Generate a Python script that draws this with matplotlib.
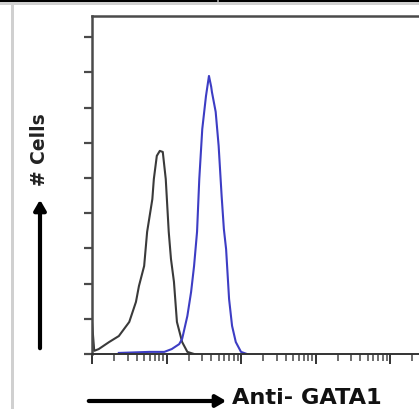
import matplotlib
matplotlib.use('Agg')
import matplotlib.pyplot as plt
from matplotlib.ticker import LogLocator, NullFormatter
import numpy as np

# control (black) histogram: log10 fluorescence, cell counts
ctrl_log = [0.00, 0.00, 0.03, 0.09, 0.23, 0.36, 0.50, 0.59, 0.63, 0.70, 0.74, 0.81, 0.83,
            0.87, 0.91, 0.95, 0.99, 1.03, 1.06, 1.10, 1.14, 1.21, 1.28, 1.37]
ctrl_cnt = [0.0, 9.0, 0.9, 1.4, 3.4, 5.1, 9.1, 14.8, 19.3, 25.0, 34.7, 44.0, 49.7,
            56.3, 57.7, 57.4, 49.7, 34.7, 27.0, 20.5, 9.1, 3.4, 0.6, 0.0]

# anti-GATA1 (blue) histogram
gata_log = [0.36, 0.77, 0.97, 1.07, 1.17, 1.21, 1.28, 1.33, 1.37, 1.41, 1.44, 1.48, 1.53,
            1.57, 1.60, 1.61, 1.66, 1.70, 1.74, 1.77, 1.80, 1.84, 1.88, 1.93, 2.00, 2.08]
gata_cnt = [0.3, 0.6, 0.6, 1.4, 2.8, 4.3, 10.8, 17.6, 25.0, 34.7, 49.7, 63.9, 73.3,
            79.0, 75.9, 74.4, 68.8, 59.1, 44.9, 35.5, 29.8, 15.6, 8.0, 3.4, 0.6, 0.0]

W, H = 419, 410
fig = plt.figure(figsize=(W / 100, H / 100), dpi=100)

# axes box: left spine at x=92, top at y=17, bottom at y=355; runs past the right edge
x0, y0, y1 = 92, 17, 355
decade = 74.5
ax = fig.add_axes([x0 / W, 1 - y1 / H, 5 * decade / W, (y1 - y0) / H])
ax.set_xscale('log')
ax.set_xlim(1, 1e5)
ax.set_ylim(0, (y1 - y0) / 3.52)

ax.plot(10 ** np.array(ctrl_log), ctrl_cnt, color='#3a3a3a', lw=1.5)
ax.plot(10 ** np.array(gata_log), gata_cnt, color='#3d3dc4', lw=1.5)

for s in ['left', 'top']:
    ax.spines[s].set_color('#4a4a4a')
    ax.spines[s].set_linewidth(1.8)
ax.spines['bottom'].set_color('#333333')
ax.spines['bottom'].set_linewidth(1.4)
ax.spines['right'].set_visible(False)

ax.set_yticks(np.arange(0, 91, 10))
ax.yaxis.set_major_formatter(NullFormatter())
ax.tick_params(axis='y', direction='out', length=6, width=1.6, color='#4a4a4a')
ax.xaxis.set_major_locator(LogLocator(base=10, numticks=10))
ax.xaxis.set_minor_locator(LogLocator(base=10, subs=np.arange(2, 10), numticks=20))
ax.xaxis.set_major_formatter(NullFormatter())
ax.xaxis.set_minor_formatter(NullFormatter())
ax.tick_params(axis='x', which='major', direction='out', length=7, width=1.4, color='#333333')
ax.tick_params(axis='x', which='minor', direction='out', length=5, width=1.2, color='#555555')

# frame decorations from the source panel
fig.add_artist(plt.Rectangle((0, 1 - 3 / H), 1, 3 / H, transform=fig.transFigure,
                             color='black', lw=0))
fig.add_artist(plt.Rectangle((0, 1 - 6 / H), 1, 3 / H, transform=fig.transFigure,
                             color='#d0d0d0', lw=0))
fig.add_artist(plt.Rectangle((217 / W, 1 - 3 / H), 2 / W, 3 / H, transform=fig.transFigure,
                             color='#888888', lw=0))
fig.add_artist(plt.Rectangle((11 / W, 0), 3 / W, 1 - 6 / H, transform=fig.transFigure,
                             color='#d0d0d0', lw=0))

# axis labels with arrows
fig.text(39 / W, 1 - 150 / H, '# Cells', rotation=90, ha='center', va='center',
         fontsize=13.5, fontweight='bold', color='#222222', family='DejaVu Sans')
fig.add_artist(matplotlib.patches.FancyArrowPatch(
    (40 / W, 1 - 352 / H), (40 / W, 1 - 198 / H), transform=fig.transFigure,
    arrowstyle='-|>,head_length=6,head_width=3.5', lw=3, color='black'))
fig.add_artist(matplotlib.patches.FancyArrowPatch(
    (86 / W, 1 - 402 / H), (229 / W, 1 - 402 / H), transform=fig.transFigure,
    arrowstyle='-|>,head_length=6,head_width=3.5', lw=3, color='black'))
fig.text(232 / W, 1 - 398 / H, 'Anti- GATA1', ha='left', va='center',
         fontsize=16.2, fontweight='bold', color='#111111', family='DejaVu Sans')

fig.savefig('out.png', dpi=100)
